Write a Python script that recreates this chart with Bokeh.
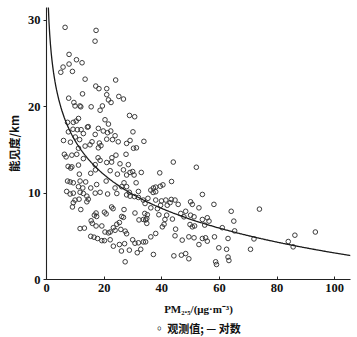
import numpy as np
from bokeh.plotting import figure
from bokeh.models import FixedTicker, Title
from bokeh.embed import file_html
from bokeh.resources import INLINE

# Observed PM2.5 (ug/m3) and visibility (km)
obs_pm = [
    6.45, 17.2, 16.85, 7.83, 10.4, 12.34, 7.83, 5.75, 4.96, 9.0, 13.4, 24.0, 17.1, 18.2,
    20.9, 12.5, 20.9, 25.1, 26.7, 7.7, 21.5, 9.5, 22.4, 9.9, 11.6, 11.9, 15.5, 19.4,
    28.8, 30.6, 30.0, 29.0, 27.8, 33.8, 30.2, 31.2, 44.0, 52.0, 32.9, 39.3, 43.4, 40.4,
    39.5, 37.9, 37.1,
    18.6, 11.1, 10.3, 20.3, 9.3, 7.3, 21.5, 18.0, 14.2, 9.2, 10.7, 12.0, 14.5, 7.6,
    19.7, 22.3, 21.2, 12.8, 10.0, 16.9, 23.8, 5.9, 8.3, 11.5, 20.9, 22.9, 15.8, 18.35,
    15.1, 18.9, 18.0, 24.9, 13.4, 11.1, 6.2, 6.8, 8.8, 10.5, 12.8, 17.9, 18.6, 22.7,
    24.1, 27.6, 7.5, 8.8, 8.4, 11.1, 16.9, 20.9, 22.6, 25.5, 28.4, 26.7, 29.0, 29.9,
    30.4, 27.8, 24.6, 22.1, 11.4, 15.35, 17.0, 7.3, 8.2, 9.3, 11.65, 13.6, 17.4, 20.7,
    31.1, 11.1, 12.6, 15.35, 23.8, 26.1, 27.8, 7.0, 9.3, 11.65, 18.6, 28.75, 31.9, 26.9,
    8.2, 12.8, 16.9, 24.4, 14.0, 9.9, 11.3, 9.3, 9.0, 11.9, 14.0, 14.5, 21.2, 27.8,
    29.0, 30.5, 31.9, 33.6, 34.2, 22.6, 23.1, 26.9, 30.7, 17.2, 16.6, 17.4, 20.1, 20.7,
    26.1, 26.7, 15.5, 15.9, 17.2, 19.2, 24.4, 25.3, 23.2, 23.8, 22.1, 25.8, 32.1, 33.6,
    34.8, 11.65, 13.15, 21.5, 20.3, 27.3, 27.8, 15.35, 16.5, 17.7, 19.2, 20.1, 22.1, 29.9,
    30.7, 31.9, 33.6, 23.2, 25.3, 27.1, 31.5, 32.7, 26.0, 28.75, 27.3,
    37.9, 37.0, 36.2, 54.1, 35.2, 37.9, 39.9, 41.4, 43.3, 44.6, 45.7, 42.9, 41.9, 39.6,
    38.5, 36.2, 50.0, 50.6, 52.9, 48.3, 58.1, 64.1, 34.1, 35.0, 34.8, 34.4, 39.0, 41.7,
    43.7, 46.6, 47.7, 41.1, 40.2, 40.8, 50.0, 51.2, 49.8, 50.6, 51.4, 54.1, 55.8, 56.4,
    54.9, 61.0, 65.0, 44.8, 44.6, 47.1, 37.9, 36.2, 34.4, 51.2, 49.4, 54.1, 55.2, 52.9,
    55.8, 58.3, 63.0, 59.8, 62.5, 63.0, 63.3, 58.7, 59.0, 37.1, 44.2, 46.8, 48.3, 49.4,
    70.8, 65.3,
    73.9, 72.0, 83.9, 86.2, 85.6, 93.3,
]
obs_vis = [
    29.2, 28.85, 27.6, 26.07, 25.45, 25.1, 24.95, 24.6, 24.0, 24.1, 23.2, 23.1, 22.4, 22.1,
    22.1, 21.5, 21.4, 21.2, 20.9, 21.0, 20.8, 20.5, 20.5, 20.1, 20.1, 20.0, 20.0, 20.1,
    19.0, 18.85, 17.1, 16.1, 15.76, 16.0, 15.2, 15.25, 13.6, 13.0, 12.4, 12.35, 11.35, 10.96,
    10.8, 10.7, 10.6,
    19.6, 18.65, 18.35, 18.5, 18.2, 18.2, 18.0, 17.5, 17.65, 17.4, 17.35, 17.35, 17.7, 17.1,
    17.2, 17.2, 17.0, 16.9, 16.5, 16.8, 16.65, 16.1, 15.9, 16.2, 16.25, 16.2, 15.95, 15.8,
    15.6, 15.5, 15.25, 15.95, 15.45, 15.2, 14.5, 14.2, 14.4, 14.5, 14.0, 14.1, 13.8, 14.1,
    14.4, 14.5, 13.1, 13.05, 12.9, 13.25, 13.3, 13.55, 13.6, 13.4, 13.3, 12.7, 12.4, 12.5,
    12.1, 12.1, 12.2, 12.6, 12.2, 12.3, 12.7, 11.4, 11.3, 11.2, 11.4, 11.3, 11.0, 11.4,
    11.2, 10.75, 10.6, 10.6, 10.6, 10.75, 10.75, 10.2, 10.0, 10.1, 10.1, 10.1, 10.2, 11.2,
    9.9, 9.96, 10.0, 9.96, 9.65, 9.2, 9.3, 8.9, 8.4, 8.1, 9.0, 9.3, 9.9, 9.8,
    9.65, 9.6, 9.5, 9.2, 8.8, 8.4, 8.2, 8.1, 7.7, 7.7, 7.45, 7.3, 7.8, 7.6,
    7.3, 7.2, 6.8, 6.5, 6.2, 6.2, 6.4, 6.6, 6.0, 5.7, 5.5, 5.8, 6.9, 6.95,
    6.5, 5.9, 5.95, 5.4, 5.5, 5.6, 5.3, 5.0, 4.9, 4.75, 4.5, 4.5, 4.6, 4.6,
    4.2, 4.25, 4.35, 3.86, 4.05, 4.15, 3.1, 3.5, 3.3, 3.4, 2.05,
    10.16, 10.08, 10.35, 9.85, 9.4, 9.2, 9.1, 9.2, 9.27, 9.2, 8.7, 8.9, 8.6, 8.6,
    8.2, 8.3, 9.0, 8.7, 8.3, 7.9, 8.7, 7.9, 7.65, 7.5, 7.07, 6.9, 7.5, 7.45,
    7.0, 7.65, 7.26, 6.95, 6.1, 6.4, 7.45, 7.26, 6.37, 6.1, 6.2, 6.95, 7.15, 6.76,
    6.3, 6.0, 6.76, 5.83, 5.06, 4.56, 5.33, 4.94, 4.36, 4.83, 4.94, 4.75, 4.83, 4.05,
    4.44, 4.94, 4.75, 3.67, 3.5, 2.6, 2.2, 2.05, 1.74, 2.9, 2.74, 2.82, 3.0, 2.4,
    3.5, 5.63,
    8.15, 4.7, 4.4, 5.13, 3.78, 5.5,
]

# Logarithmic fit: vis = fit_a - fit_b * ln(PM)
fit_a = 29.0
fit_b = 5.63
x_ticks = [0, 20, 40, 60, 80, 100]
y_ticks = [0, 10, 20, 30]
x_label = "PM₂.₅/(μg·m⁻³)"
y_label = "能见度/km"
legend_text = "◦ 观测值;  — 对数"

n = min(len(obs_pm), len(obs_vis))
obs_pm = obs_pm[:n]
obs_vis = obs_vis[:n]

fit_x = np.linspace(0.6, 105.5, 400)
fit_y = fit_a - fit_b * np.log(fit_x)

p = figure(frame_width=304, frame_height=272, x_range=(0, 105.5), y_range=(0, 31.5),
           output_backend="svg", toolbar_location=None,
           min_border_left=0, min_border_right=7, min_border_top=7, min_border_bottom=0)
p.outline_line_color = None
p.xgrid.visible = False
p.ygrid.visible = False
p.background_fill_color = "white"

p.scatter(obs_pm, obs_vis, marker="circle", size=4.6, fill_color=None,
          line_color="#333333", line_width=0.95)
p.line(fit_x, fit_y, line_color="#1a1a1a", line_width=1.3)

tick_font = "Liberation Serif"
for ax in (p.xaxis[0], p.yaxis[0]):
    ax.axis_line_color = "#222222"
    ax.axis_line_width = 1.1
    ax.major_tick_line_color = "#222222"
    ax.minor_tick_line_color = None
    ax.major_label_text_font = tick_font
    ax.major_label_text_font_style = "bold"
    ax.major_label_text_font_size = "12.5px"
    ax.major_label_text_color = "#111111"

p.xaxis.ticker = FixedTicker(ticks=x_ticks)
p.yaxis.ticker = FixedTicker(ticks=y_ticks)
p.xaxis.major_tick_in = 3
p.xaxis.major_tick_out = 0
p.yaxis.major_tick_in = 0
p.yaxis.major_tick_out = 3
p.xaxis.major_label_standoff = 4
p.yaxis.major_label_standoff = 3

p.xaxis.axis_label = x_label
p.xaxis.axis_label_text_font = tick_font
p.xaxis.axis_label_text_font_style = "bold"
p.xaxis.axis_label_text_font_size = "11px"
p.xaxis.axis_label_text_color = "#111111"
p.xaxis.axis_label_standoff = 8

ytitle = Title(text=y_label, align="center", text_font="Noto Sans CJK SC",
               text_font_style="bold", text_font_size="11.5px", text_color="#111111",
               standoff=6, offset=0)
p.add_layout(ytitle, "left")

leg = Title(text=legend_text, align="center", text_font="Noto Sans CJK SC",
            text_font_style="bold", text_font_size="11px", text_color="#111111",
            standoff=1)
p.add_layout(leg, "below")

open("out.html", "w").write(file_html(p, INLINE))
